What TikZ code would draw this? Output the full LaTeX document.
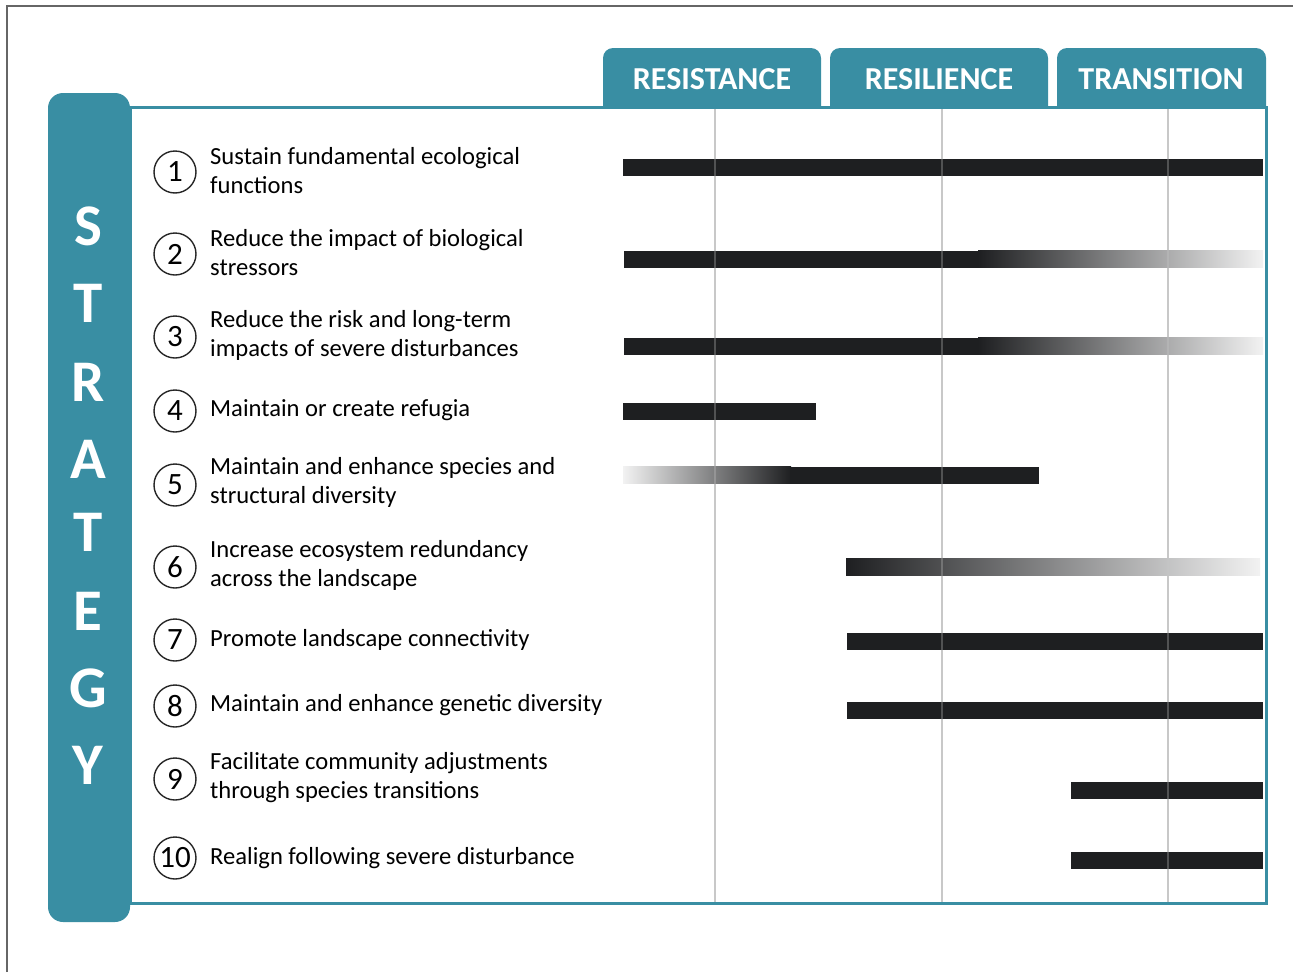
\documentclass[tikz,border=0pt]{standalone}
\usepackage{fontspec}
\setmainfont{Carlito}
\definecolor{stratteal}{RGB}{57,142,163}
\definecolor{barblack}{RGB}{30,31,33}
\definecolor{midgray}{RGB}{118,119,122}
\definecolor{gridgray}{RGB}{200,200,200}
\definecolor{fadegray}{RGB}{242,242,242}

\begin{document}
\begin{tikzpicture}[x=1pt, y=-1pt,
    numcirc/.style={circle, draw=black!85, line width=1.4pt, minimum size=42pt, inner sep=0pt, font=\fontsize{31}{31}\selectfont},
    stratlabel/.style={anchor=west, inner sep=0pt, align=left, font=\fontsize{24.6}{29}\selectfont},
    tabtext/.style={text=white, font=\fontsize{32}{32}\selectfont\bfseries},
    strletter/.style={text=white, inner sep=0pt, font=\fontsize{59}{59}\selectfont\bfseries},
    bar/.style={fill=barblack}]
  \useasboundingbox (0,0) rectangle (1293,972);

  % outer frame
  \draw[black!60, line width=2.5pt] (7,972) -- (7,6) -- (1293,6);

  % table frame and tabs
  \draw[stratteal, line width=3pt] (130,107) rectangle (1266,903);
  \fill[stratteal] (603,108) [rounded corners=10pt] -- (603,48) -- (821,48) [sharp corners] -- (821,108) -- cycle;
  \fill[stratteal] (830,108) [rounded corners=10pt] -- (830,48) -- (1048,48) [sharp corners] -- (1048,108) -- cycle;
  \fill[stratteal] (1057,108) [rounded corners=10pt] -- (1057,48) -- (1266,48) [sharp corners] -- (1266,108) -- cycle;
  \node[tabtext] (resist) at (712,79) {RESISTANCE};
  \node[tabtext] (resil) at (939,79) {RESILIENCE};
  \node[tabtext] (trans) at (1161,79) {TRANSITION};

  % strategy column
  \fill[stratteal, rounded corners=15pt] (48,93) rectangle (130,922);
  \node[strletter] (l1) at (88,226) {S};
  \node[strletter] (l2) at (88,303) {T};
  \node[strletter] (l3) at (88,382) {R};
  \node[strletter] (l4) at (88,459) {A};
  \node[strletter] (l5) at (88,532) {T};
  \node[strletter] (l6) at (88,611) {E};
  \node[strletter] (l7) at (88,688) {G};
  \node[strletter] (l8) at (88,765) {Y};

  % grid lines
  \draw[gridgray, line width=1.5pt] (715,109) -- (715,902);
  \draw[gridgray, line width=1.5pt] (942,109) -- (942,902);
  \draw[gridgray, line width=1.5pt] (1168,109) -- (1168,902);

  % strategies
  \node[numcirc] (n1) at (175,172) {1};
  \node[stratlabel] (s1) at (210,170.5) {Sustain fundamental ecological\\functions};
  \node[numcirc] (n2) at (175,254) {2};
  \node[stratlabel] (s2) at (210,252.5) {Reduce the impact of biological\\stressors};
  \node[numcirc] (n3) at (175,337) {3};
  \node[stratlabel] (s3) at (210,335.5) {Reduce the risk and long-term\\impacts of severe disturbances};
  \node[numcirc] (n4) at (175,411) {4};
  \node[stratlabel] (s4) at (210,410) {Maintain or create refugia};
  \node[numcirc] (n5) at (175,485) {5};
  \node[stratlabel] (s5) at (210,482.5) {Maintain and enhance species and\\structural diversity};
  \node[numcirc] (n6) at (175,567) {6};
  \node[stratlabel] (s6) at (210,565) {Increase ecosystem redundancy\\across the landscape};
  \node[numcirc] (n7) at (175,640) {7};
  \node[stratlabel] (s7) at (210,640) {Promote landscape connectivity};
  \node[numcirc] (n8) at (175,706) {8};
  \node[stratlabel] (s8) at (210,705) {Maintain and enhance genetic diversity};
  \node[numcirc] (n9) at (175,779) {9};
  \node[stratlabel] (s9) at (210,777.5) {Facilitate community adjustments\\through species transitions};
  \node[numcirc] (n10) at (175,858) {10};
  \node[stratlabel] (s10) at (210,858) {Realign following severe disturbance};

  % bars
  \fill[bar] (623,158.5) rectangle (1263,175.5);
  \fill[bar] (624,250.5) rectangle (979,267.5);
  \shade[left color=barblack, right color=fadegray] (978,250.5) rectangle (1263,267.5);
  \fill[bar] (624,337.5) rectangle (979,354.5);
  \shade[left color=barblack, right color=fadegray] (978,337.5) rectangle (1263,354.5);
  \fill[bar] (623,402.5) rectangle (816,419.5);
  \shade[left color=fadegray, right color=barblack] (623,466.5) rectangle (791,483.5);
  \fill[bar] (790,466.5) rectangle (1039,483.5);
  \shade[left color=barblack, middle color=midgray, right color=fadegray] (846,558.5) rectangle (1260,575.5);
  \fill[bar] (847,632.5) rectangle (1263,649.5);
  \fill[bar] (847,701.5) rectangle (1263,718.5);
  \fill[bar] (1071,781.5) rectangle (1263,798.5);
  \fill[bar] (1071,851.5) rectangle (1263,868.5);

  % grid lines seen through the bars
  \draw[gridgray, line width=1.5pt, opacity=0.3] (715,109) -- (715,902);
  \draw[gridgray, line width=1.5pt, opacity=0.3] (942,109) -- (942,902);
  \draw[gridgray, line width=1.5pt, opacity=0.3] (1168,109) -- (1168,902);
\end{tikzpicture}
\end{document}
